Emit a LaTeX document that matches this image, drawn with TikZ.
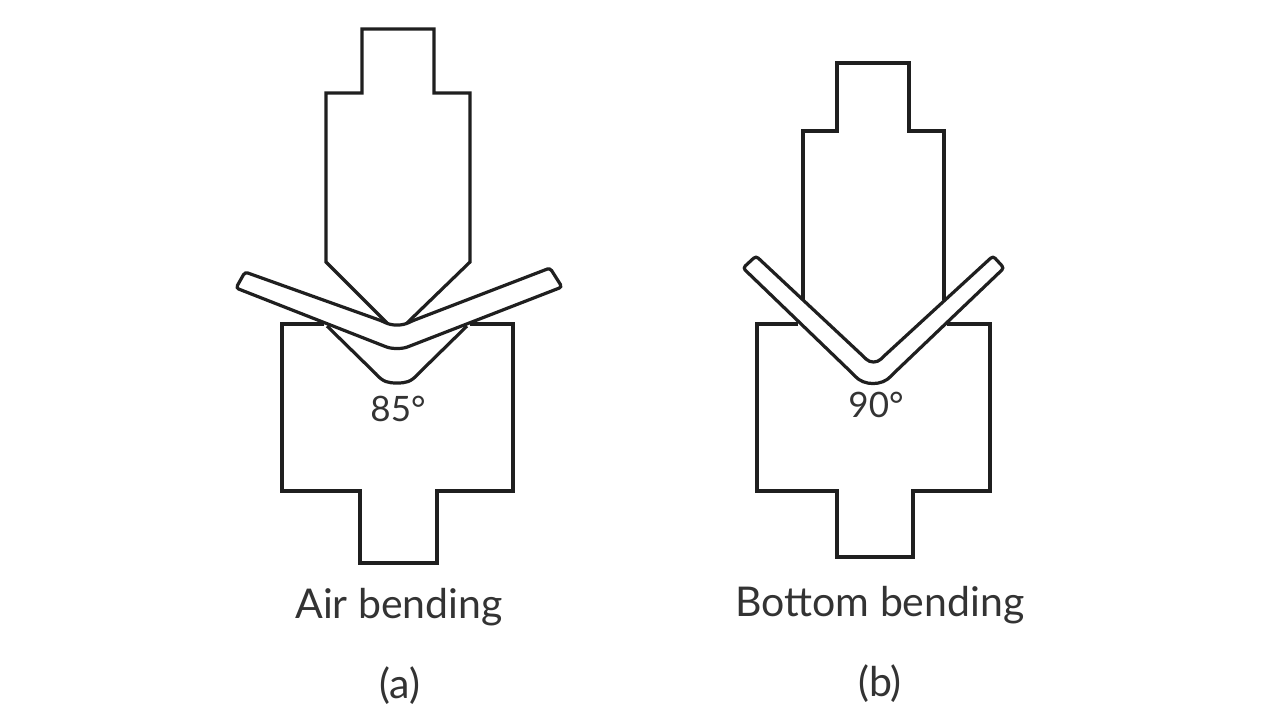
\documentclass[tikz,border=0pt]{standalone}
\usepackage{fontspec}
\setmainfont{Lato}
\tikzset{outline/.style={line width=3.2pt, draw=black!88, line join=miter}}
\tikzset{sheet/.style={outline, fill=white, rounded corners=3pt}}
\tikzset{caption/.style={font=\fontsize{41}{46}\selectfont, text=black!80, inner sep=0pt}}
\tikzset{angle label/.style={font=\fontsize{35}{40}\selectfont, text=black!80, inner sep=0pt}}
\begin{document}
\begin{tikzpicture}[x=1pt, y=-1pt]
	\useasboundingbox (0,0) rectangle (1280,720);
	
	% Air bending
	% Punch
	\draw[outline] (387,323) -- (326,262) -- (326,93) -- (362,93) -- (362,29) -- (434,29) -- (434,93) -- (470,93) -- (470,262) -- (407,323);
	% Die with its groove
	\draw[outline] (324,324) -- (282,324) -- (282,491) -- (360,491) -- (360,563) -- (437,563) -- (437,491) -- (513,491) -- (513,324) -- (470,324);
	\draw[outline] (327,326) -- (376,374) .. controls (383,382) and (388,383) .. (397,383) .. controls (406,383) and (411,382) .. (418,374) -- (467,326);
	% Bent sheet
	\draw[sheet] (245,272) -- (382,321) .. controls (392,326) and (402,326) .. (412,321) -- (550,268)
		-- (562,287) -- (410,346) .. controls (402,349) and (392,349) .. (384,346) -- (236,288) -- cycle;
	
	% Bottom bending
	% Punch
	\draw[outline] (803,300) -- (803,131) -- (837,131) -- (837,63) -- (909,63) -- (909,131) -- (944,131) -- (944,300);
	% Die
	\draw[outline] (798,324) -- (757,324) -- (757,491) -- (837,491) -- (837,557) -- (913,557) -- (913,491) -- (990,491) -- (990,324) -- (947,324);
	% Bent sheet
	\draw[sheet] (756,256) -- (864,357) .. controls (870,363) and (877,363) .. (883,357) -- (993,256)
		-- (1004,268) -- (893,374) .. controls (882,386) and (864,386) .. (853,374) -- (743,268) -- cycle;
	
	% Labels
	\node[angle label] (angleA) at (398,409) {85°};
	\node[angle label] (angleB) at (876,405) {90°};
	\node[caption] (nameA) at (399,607) {Air bending};
	\node[caption] (nameB) at (880,605) {Bottom bending};
	\node[caption] (partA) at (400,686) {(a)};
	\node[caption] (partB) at (880,684) {(b)};
\end{tikzpicture}
\end{document}
